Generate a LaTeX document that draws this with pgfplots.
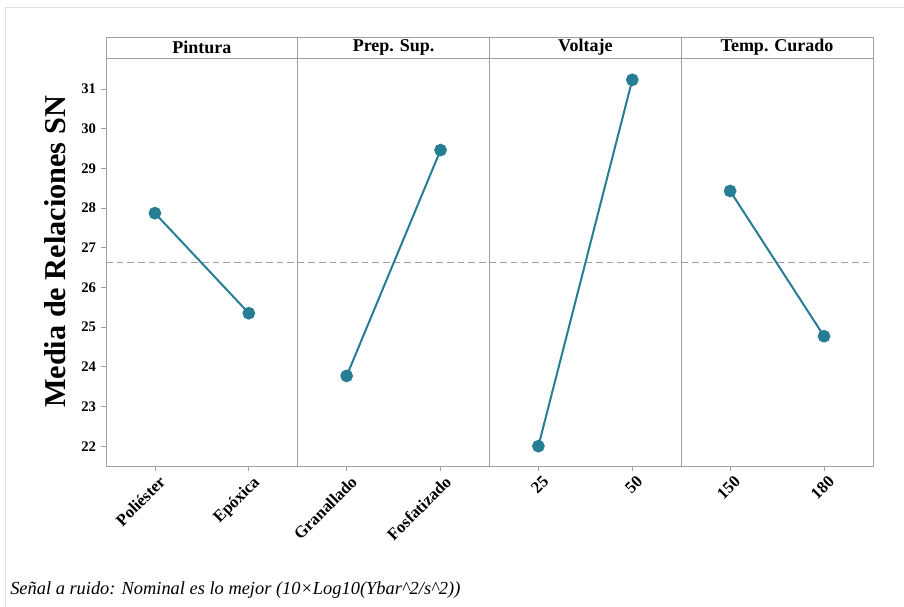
\documentclass[border=0pt]{standalone}
\usepackage{fontspec}
\setmainfont{Liberation Serif}
\usepackage{pgfplots}
\pgfplotsset{compat=1.18}
\definecolor{ser}{RGB}{37,126,148}
\definecolor{frm}{RGB}{160,160,160}
\pgfplotsset{panel/.style={
  scale only axis, width=143.8pt, height=306pt, anchor=south west,
  xmin=0.479, xmax=2.521, ymin=21.5, ymax=31.78,
  axis line style={frm, line width=0.6pt},
  xtick={1,2}, ytick=\empty,
  tick style={frm, line width=0.6pt}, tick align=outside, major tick length=4pt,
  xtick pos=bottom, ytick pos=left,
  xticklabel style={rotate=45, anchor=north east, inner sep=1pt, yshift=-2.5pt, xshift=1pt, font=\bfseries\fontsize{12.5}{13}\selectfont},
  yticklabel style={font=\bfseries\fontsize{11}{12}\selectfont},
  /pgf/number format/assume math mode=true,
  clip=false,
}}
\newcommand{\header}[1]{%
  \draw[frm, line width=0.6pt] (rel axis cs:0,1) rectangle ([yshift=15.75pt]rel axis cs:1,1);
  \node[font=\bfseries\fontsize{13.5}{14}\selectfont, inner sep=0pt] at ([yshift=7.9pt]rel axis cs:0.5,1) {#1};
}
\begin{document}
\begin{tikzpicture}
\useasboundingbox (0,0) rectangle (678pt,455.25pt);
\fill[white] (0,0) rectangle (678pt,455.25pt);
\draw[black!12, line width=0.6pt] (3.75pt,0) |- (678pt,450pt);

\begin{axis}[panel, at={(79.5pt,105.75pt)}, ytick={22,23,...,31},
  xticklabels={Poliéster, Epóxica}]
  \addplot[frm, dashed, dash pattern=on 5pt off 3pt, line width=0.6pt] coordinates {(0.479,26.62) (2.521,26.62)};
  \addplot[ser, line width=1.5pt, mark=*, mark size=4pt] coordinates {(1,27.87) (2,25.35)};
  \header{Pintura}
\end{axis}

\begin{axis}[panel, at={(223.3pt,105.75pt)},
  xticklabels={Granallado, Fosfatizado}]
  \addplot[frm, dashed, dash pattern=on 5pt off 3pt, line width=0.6pt] coordinates {(0.479,26.62) (2.521,26.62)};
  \addplot[ser, line width=1.5pt, mark=*, mark size=4pt] coordinates {(1,23.77) (2,29.46)};
  \header{Prep. Sup.}
\end{axis}

\begin{axis}[panel, at={(367.1pt,105.75pt)},
  xticklabels={25, 50}]
  \addplot[frm, dashed, dash pattern=on 5pt off 3pt, line width=0.6pt] coordinates {(0.479,26.62) (2.521,26.62)};
  \addplot[ser, line width=1.5pt, mark=*, mark size=4pt] coordinates {(1,22.00) (2,31.23)};
  \header{Voltaje}
\end{axis}

\begin{axis}[panel, at={(510.9pt,105.75pt)},
  xticklabels={150, 180}]
  \addplot[frm, dashed, dash pattern=on 5pt off 3pt, line width=0.6pt] coordinates {(0.479,26.62) (2.521,26.62)};
  \addplot[ser, line width=1.5pt, mark=*, mark size=4pt] coordinates {(1,28.43) (2,24.77)};
  \header{Temp. Curado}
\end{axis}

\node[rotate=90, font=\bfseries\fontsize{22.7}{24}\selectfont] at (41.25pt,266.25pt) {Media de Relaciones SN};
\node[anchor=west, inner sep=0pt, font=\itshape\fontsize{13.8}{15}\selectfont] at (7.5pt,12.75pt) {Señal a ruido: Nominal es lo mejor (10×Log10(Ybar\textasciicircum 2/s\textasciicircum 2))};
\end{tikzpicture}
\end{document}
